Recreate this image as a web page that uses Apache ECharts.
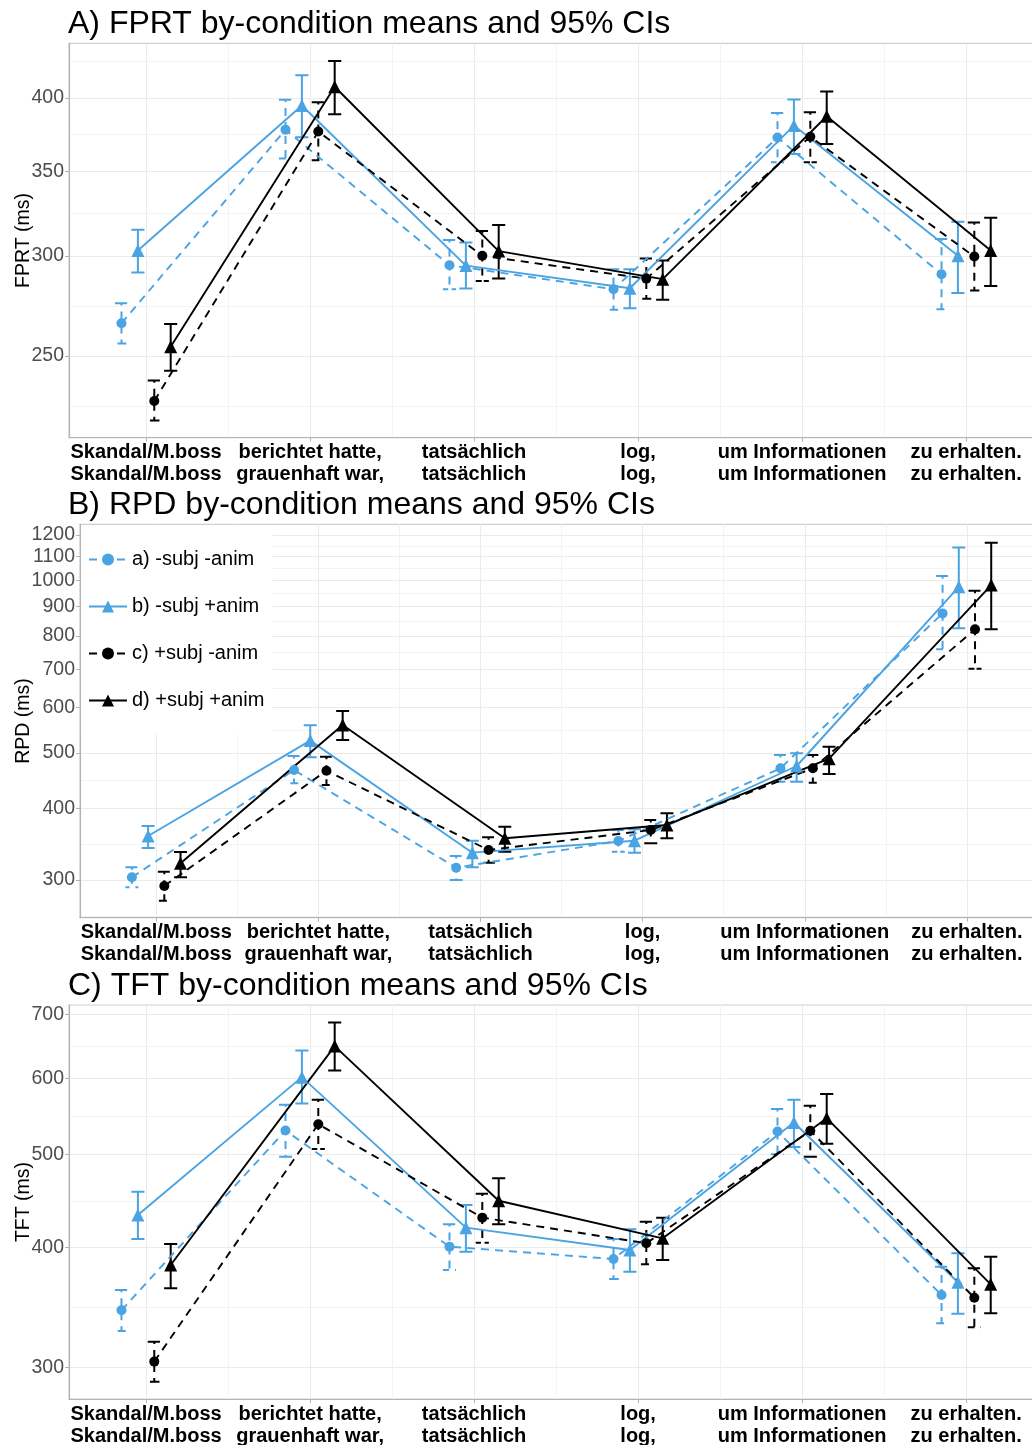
<!DOCTYPE html>
<html><head><meta charset="utf-8">
<script src="https://cdn.jsdelivr.net/npm/echarts@6/dist/echarts.min.js"></script>
<style>html,body{margin:0;padding:0;background:#fff}#c{width:1032px;height:1445px}</style>
</head><body><div id="c"></div><script>
// ---------- data ----------
const categories = [
  'Skandal/M.boss\nSkandal/M.boss',
  'berichtet hatte,\ngrauenhaft war,',
  'tatsächlich\ntatsächlich',
  'log,\nlog,',
  'um Informationen\num Informationen',
  'zu erhalten.\nzu erhalten.'
];
const seriesNames = ['a) -subj -anim', 'b) -subj +anim', 'c) +subj -anim', 'd) +subj +anim'];

// A) FPRT
const fprt_a    = [265.3, 377.5, 294.9, 282.3, 372.1, 290.1];
const fprt_a_lo = [255.7, 358.1, 282.3, 271.9, 355.7, 272.2];
const fprt_a_hi = [275.2, 398.6, 308.7, 292.8, 389.2, 309.4];
const fprt_b    = [302.9, 394.5, 294.7, 282.8, 380.3, 300.0];
const fprt_b_lo = [291.0, 372.3, 282.6, 272.7, 361.2, 280.3];
const fprt_b_hi = [314.6, 416.9, 307.4, 292.8, 398.8, 319.2];
const fprt_c    = [230.3, 376.2, 300.0, 287.8, 372.6, 299.6];
const fprt_c_lo = [222.3, 357.0, 286.6, 277.4, 355.7, 281.6];
const fprt_c_hi = [239.1, 396.8, 313.8, 298.5, 389.6, 318.8];
const fprt_d    = [254.2, 408.2, 302.6, 287.5, 386.8, 302.9];
const fprt_d_lo = [243.3, 388.3, 287.8, 276.9, 367.8, 284.0];
const fprt_d_hi = [265.0, 427.7, 317.3, 297.5, 404.7, 321.5];

// B) RPD
const rpd_a    = [303.3, 466.7, 315.2, 350.9, 469.9, 875.9];
const rpd_a_lo = [291.3, 442.4, 300.0, 336.1, 445.3, 758.0];
const rpd_a_hi = [315.7, 493.7, 330.4, 366.7, 495.7, 1017.5];
const rpd_b    = [358.0, 525.3, 334.8, 351.3, 474.3, 974.8];
const rpd_b_lo = [341.2, 491.1, 315.7, 334.8, 445.3, 824.8];
const rpd_b_hi = [372.7, 558.8, 351.3, 367.8, 499.1, 1141.8];
const rpd_c    = [292.9, 465.4, 338.4, 366.7, 469.9, 821.4];
const rpd_c_lo = [276.1, 439.4, 321.6, 347.6, 443.5, 701.1];
const rpd_c_hi = [310.2, 492.3, 356.1, 381.8, 495.7, 959.3];
const rpd_d    = [320.8, 559.5, 354.7, 374.2, 488.4, 981.4];
const rpd_d_lo = [303.3, 526.7, 336.1, 354.7, 459.3, 821.4];
const rpd_d_hi = [335.7, 591.8, 371.6, 392.2, 512.6, 1163.2];

// C) TFT
const tft_a    = [344.3, 529.8, 401.0, 389.3, 528.5, 357.1];
const tft_a_lo = [327.6, 497.5, 379.2, 371.1, 500.4, 333.7];
const tft_a_hi = [361.4, 563.5, 423.1, 408.4, 557.7, 382.2];
const tft_b    = [432.6, 602.1, 419.7, 397.8, 540.0, 368.2];
const tft_b_lo = [408.4, 565.2, 396.2, 377.7, 509.2, 341.5];
const tft_b_hi = [457.5, 641.9, 443.1, 418.1, 570.3, 394.7];
const tft_c    = [304.4, 537.9, 429.9, 404.3, 529.4, 354.8];
const tft_c_lo = [290.1, 506.7, 404.9, 384.4, 497.5, 330.5];
const tft_c_hi = [319.3, 570.3, 455.3, 425.7, 562.1, 380.7];
const tft_d    = [383.8, 648.6, 447.7, 409.1, 545.7, 366.4];
const tft_d_lo = [362.9, 611.8, 423.1, 388.4, 513.3, 341.8];
const tft_d_hi = [403.6, 686.2, 472.4, 429.9, 578.1, 391.5];

// tick labels (log-scaled y axes)
const fprtTicks = [250, 300, 350, 400];
const rpdTicks  = [300, 400, 500, 600, 700, 800, 900, 1000, 1100, 1200];
const tftTicks  = [300, 400, 500, 600, 700];
const fprtRange = [215.4, 441.8];
const rpdRange  = [257.8, 1253];
const tftRange  = [278.3, 715.8];

// ---------- styling / layout ----------
const FONT = '"Liberation Sans", Arial, Helvetica, sans-serif';
const BLUE = '#4AA3E2', BLACK = '#000000';
const colors = [BLUE, BLUE, BLACK, BLACK];
const dashed = [true, false, true, false];
const symbols = ['circle', 'triangle', 'circle', 'triangle'];
const symSizes = [10, 13, 10, 13];
const dodge = [-0.15, -0.05, 0.05, 0.15];
const XMIN = 0.53, XMAX = 6.42;
const DASH = [8, 6];
const L = Math.log;

function minorLog(ticks) {
  const lt = ticks.map(L), m = [];
  for (let i = 0; i < lt.length - 1; i++) m.push((lt[i] + lt[i + 1]) / 2);
  m.unshift(lt[0] - (lt[1] - lt[0]) / 2);
  m.push(lt[lt.length - 1] + (lt[lt.length - 1] - lt[lt.length - 2]) / 2);
  return m;
}

const panels = [
  { title: 'A) FPRT by-condition means and 95% CIs', titleTop: 8, name: 'FPRT (ms)',
    grid: { left: 69, top: 43.3, height: 394.4 }, nameGap: 35,
    ticks: fprtTicks, range: fprtRange,
    sets: [[fprt_a, fprt_a_lo, fprt_a_hi], [fprt_b, fprt_b_lo, fprt_b_hi], [fprt_c, fprt_c_lo, fprt_c_hi], [fprt_d, fprt_d_lo, fprt_d_hi]] },
  { title: 'B) RPD by-condition means and 95% CIs', titleTop: 489, name: 'RPD (ms)',
    grid: { left: 80, top: 524.3, height: 393.4 }, nameGap: 46,
    ticks: rpdTicks, range: rpdRange,
    sets: [[rpd_a, rpd_a_lo, rpd_a_hi], [rpd_b, rpd_b_lo, rpd_b_hi], [rpd_c, rpd_c_lo, rpd_c_hi], [rpd_d, rpd_d_lo, rpd_d_hi]] },
  { title: 'C) TFT by-condition means and 95% CIs', titleTop: 970, name: 'TFT (ms)',
    grid: { left: 69, top: 1005, height: 394 }, nameGap: 35,
    ticks: tftTicks, range: tftRange,
    sets: [[tft_a, tft_a_lo, tft_a_hi], [tft_b, tft_b_lo, tft_b_hi], [tft_c, tft_c_lo, tft_c_hi], [tft_d, tft_d_lo, tft_d_hi]] }
];

const majorX = [1, 2, 3, 4, 5, 6];
const minorX = [1.5, 2.5, 3.5, 4.5, 5.5];

const option = { animation: false, backgroundColor: '#fff', title: [], grid: [], xAxis: [], yAxis: [], series: [] };

panels.forEach((p, i) => {
  option.title.push({ text: p.title, left: 68, top: p.titleTop, padding: 0,
    textStyle: { fontFamily: FONT, fontSize: 32, fontWeight: 'normal', color: '#000' } });
  option.grid.push({ left: p.grid.left, top: p.grid.top, height: p.grid.height, right: -3,
    outerBoundsMode: 'none', containLabel: false,
    show: true, borderColor: '#cfcfcf', borderWidth: 1.2 });
  // main x axis
  option.xAxis.push({ type: 'value', gridIndex: i, min: XMIN, max: XMAX,
    axisLine: { show: true, onZero: false, lineStyle: { color: '#b3b3b3', width: 1.2 } },
    axisTick: { show: true, length: 4, customValues: majorX, lineStyle: { color: '#b3b3b3' } },
    axisLabel: { customValues: majorX, formatter: v => categories[Math.round(v) - 1],
      fontFamily: FONT, fontSize: 20, fontWeight: 'bold', color: '#000', lineHeight: 22, margin: 4 },
    splitLine: { show: true, lineStyle: { color: '#ebebeb', width: 1 } } });
  // minor x axis (grid lines only)
  option.xAxis.push({ type: 'value', gridIndex: i, min: XMIN, max: XMAX, position: 'bottom',
    axisLine: { show: false }, axisTick: { show: false, customValues: minorX },
    axisLabel: { show: false, customValues: minorX },
    splitLine: { show: true, lineStyle: { color: '#f3f3f3', width: 1 } } });
  const lt = p.ticks.map(L);
  const mt = minorLog(p.ticks);
  option.yAxis.push({ type: 'value', gridIndex: i, min: L(p.range[0]), max: L(p.range[1]),
    name: p.name, nameLocation: 'middle', nameGap: p.nameGap, nameMoveOverlap: false,
    nameTextStyle: { fontFamily: FONT, fontSize: 19.5, color: '#000' },
    axisLine: { show: true, lineStyle: { color: '#b3b3b3', width: 1.2 } },
    axisTick: { show: true, length: 4, customValues: lt, lineStyle: { color: '#b3b3b3' } },
    axisLabel: { customValues: lt, formatter: v => String(Math.round(Math.exp(v))),
      fontFamily: FONT, fontSize: 19.5, color: '#4d4d4d', margin: 5 },
    splitLine: { show: true, lineStyle: { color: '#ebebeb', width: 1 } } });
  option.yAxis.push({ type: 'value', gridIndex: i, min: L(p.range[0]), max: L(p.range[1]), position: 'left',
    axisLine: { show: false }, axisTick: { show: false, customValues: mt },
    axisLabel: { show: false, customValues: mt },
    splitLine: { show: true, lineStyle: { color: '#f3f3f3', width: 1 } } });

  p.sets.forEach((set, k) => {
    const [mean, lo, hi] = set;
    const col = colors[k];
    // error bars
    option.series.push({ type: 'custom', name: 'ci-' + k, xAxisIndex: 2 * i, yAxisIndex: 2 * i,
      silent: true, z: 2,
      data: mean.map((v, j) => [j + 1 + dodge[k], L(lo[j]), L(hi[j])]),
      encode: { x: 0, y: [1, 2] },
      renderItem: (params, api) => {
        const x = api.value(0), ylo = api.value(1), yhi = api.value(2), cw = 0.04;
        const pts = [api.coord([x - cw, yhi]), api.coord([x + cw, yhi]), api.coord([x, yhi]),
                     api.coord([x, ylo]), api.coord([x - cw, ylo]), api.coord([x + cw, ylo])];
        return { type: 'polyline', shape: { points: pts },
          style: { stroke: col, lineWidth: 2, fill: null, lineDash: dashed[k] ? DASH : null } };
      } });
    // means + connecting line
    option.series.push({ type: 'line', name: seriesNames[k], xAxisIndex: 2 * i, yAxisIndex: 2 * i,
      z: 3, symbol: symbols[k], symbolSize: symSizes[k], showAllSymbol: true,
      data: mean.map((v, j) => [j + 1 + dodge[k], L(v)]),
      itemStyle: { color: col },
      lineStyle: { color: col, width: 1.9, type: dashed[k] ? DASH : 'solid' } });
  });
});

option.legend = { data: seriesNames, orient: 'vertical', left: 81, top: 525.5,
  itemWidth: 38, itemHeight: 15, itemGap: 27, padding: [24, 8, 24, 7],
  backgroundColor: '#fff', selectedMode: false,
  textStyle: { fontFamily: FONT, fontSize: 20, color: '#000' } };

const chart = echarts.init(document.getElementById('c'), null, { renderer: 'canvas' });
chart.setOption(option);
</script></body></html>
